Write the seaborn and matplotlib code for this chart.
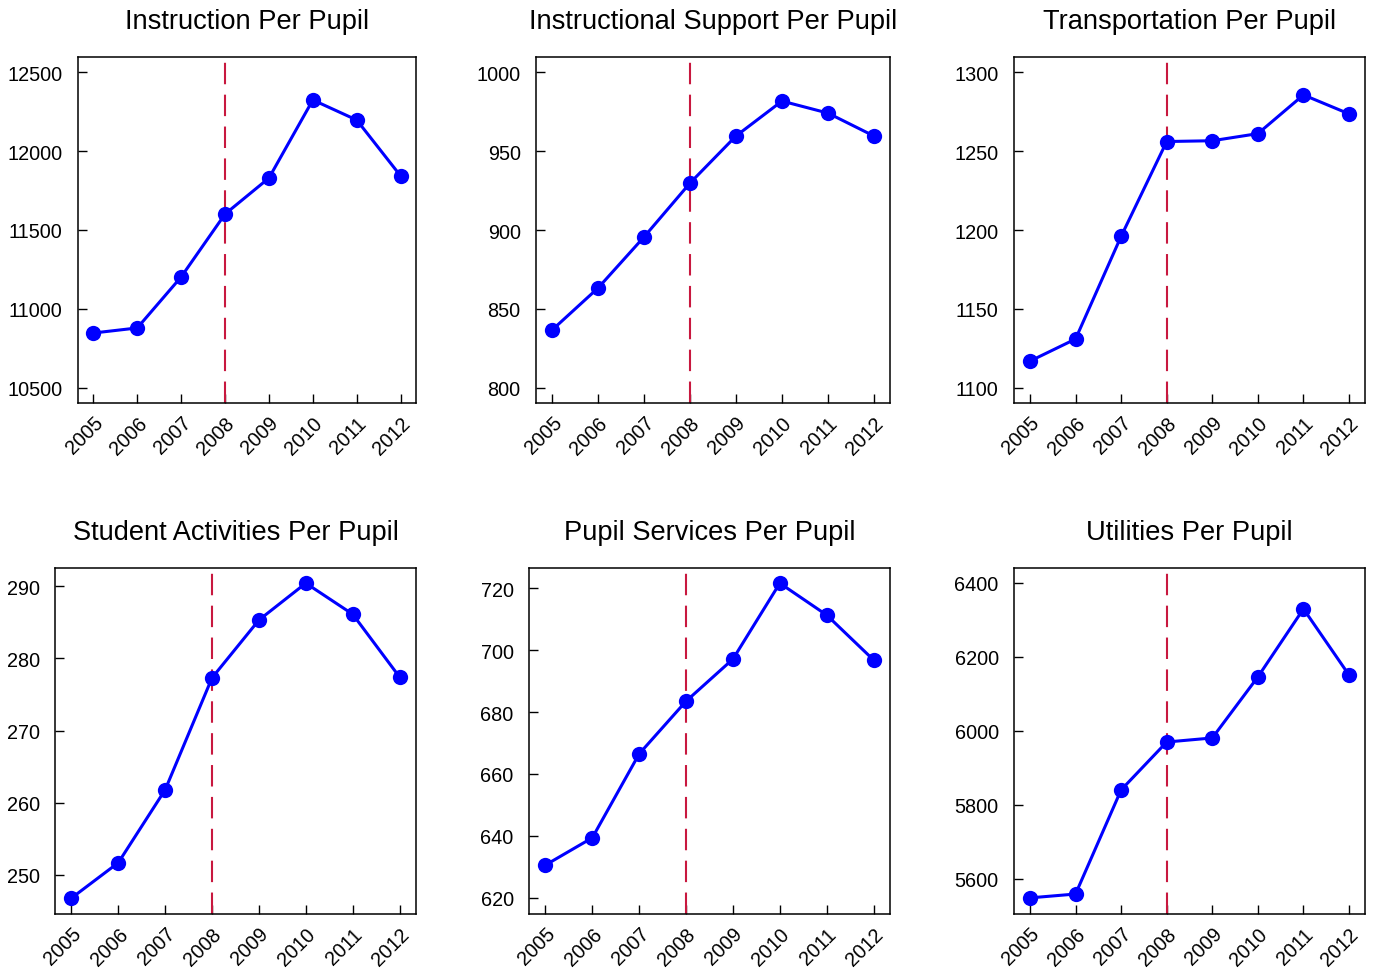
import numpy as np
import pandas as pd
import matplotlib
matplotlib.use("Agg")
import matplotlib.pyplot as plt
import seaborn as sns

sns.set_style("ticks")
plt.rcParams['font.family'] = ['Liberation Sans', 'DejaVu Sans']

years = [2005, 2006, 2007, 2008, 2009, 2010, 2011, 2012]

instruction = [10848, 10880, 11203, 11601, 11829, 12323, 12196, 11842]
instr_support = [836.7, 863.3, 895.6, 929.7, 959.5, 981.6, 974.0, 959.5]
transportation = [1117, 1131, 1196, 1256, 1256.5, 1261, 1285.5, 1273.5]
student_act = [246.8, 251.7, 261.8, 277.3, 285.3, 290.4, 286.1, 277.4]
pupil_services = [630.6, 639.4, 666.5, 683.5, 697.1, 721.6, 711.3, 696.8]
utilities = [5548.6, 5559, 5840.5, 5970, 5981, 6146, 6330, 6151]

titles = ["Instruction Per Pupil", "Instructional Support Per Pupil",
          "Transportation Per Pupil", "Student Activities Per Pupil",
          "Pupil Services Per Pupil", "Utilities Per Pupil"]
series = [instruction, instr_support, transportation,
          student_act, pupil_services, utilities]
yticks = [[10500, 11000, 11500, 12000, 12500],
          [800, 850, 900, 950, 1000],
          [1100, 1150, 1200, 1250, 1300],
          [250, 260, 270, 280, 290],
          [620, 640, 660, 680, 700, 720],
          [5600, 5800, 6000, 6200, 6400]]
ylims = [(10405, 12595), (790.5, 1009.5), (1090.5, 1309.5),
         (244.6, 292.5), (614.8, 726.5), (5505, 6440.5)]
cutoff_year = 2008

W, H = 1377, 970
# pixel boxes: left, right, top, bottom
boxes = [(78, 416, 58, 404), (536, 890, 58, 404), (1014, 1365, 58, 404),
         (55, 416, 569, 915), (529, 890, 569, 915), (1014, 1365, 569, 915)]

fig = plt.figure(figsize=(W / 100, H / 100), dpi=100)

for i in range(6):
    l, r, t, b = boxes[i]
    ax = fig.add_axes([l / W, 1 - b / H, (r - l) / W, (b - t) / H])
    df = pd.DataFrame({"year": years, "value": series[i]})
    ax.axvline(cutoff_year, color="#C8183F", lw=1.5, linestyle=(0, (10.3, 5)), zorder=1)
    sns.lineplot(data=df, x="year", y="value", ax=ax, color="#0000FF",
                 lw=2.2, marker="o", markersize=11, markeredgewidth=0,
                 zorder=3)
    ax.set_xlim(2004.65, 2012.35)
    ax.set_ylim(*ylims[i])
    ax.set_xticks(years)
    ax.set_xticklabels([str(y) for y in years], rotation=45, ha="right",
                       rotation_mode="anchor")
    ax.set_yticks(yticks[i])
    ax.set_xlabel("")
    ax.set_ylabel("")
    ax.tick_params(direction="in", length=6.5, width=1, labelsize=14.3,
                   colors="black", pad=7)
    ax.tick_params(axis="y", pad=11)
    for s in ax.spines.values():
        s.set_visible(True)
        s.set_color("black")
        s.set_linewidth(1.1)
    ax.set_title(titles[i], fontsize=19.6, pad=21, color="black")

fig.savefig("out.png", dpi=100)
